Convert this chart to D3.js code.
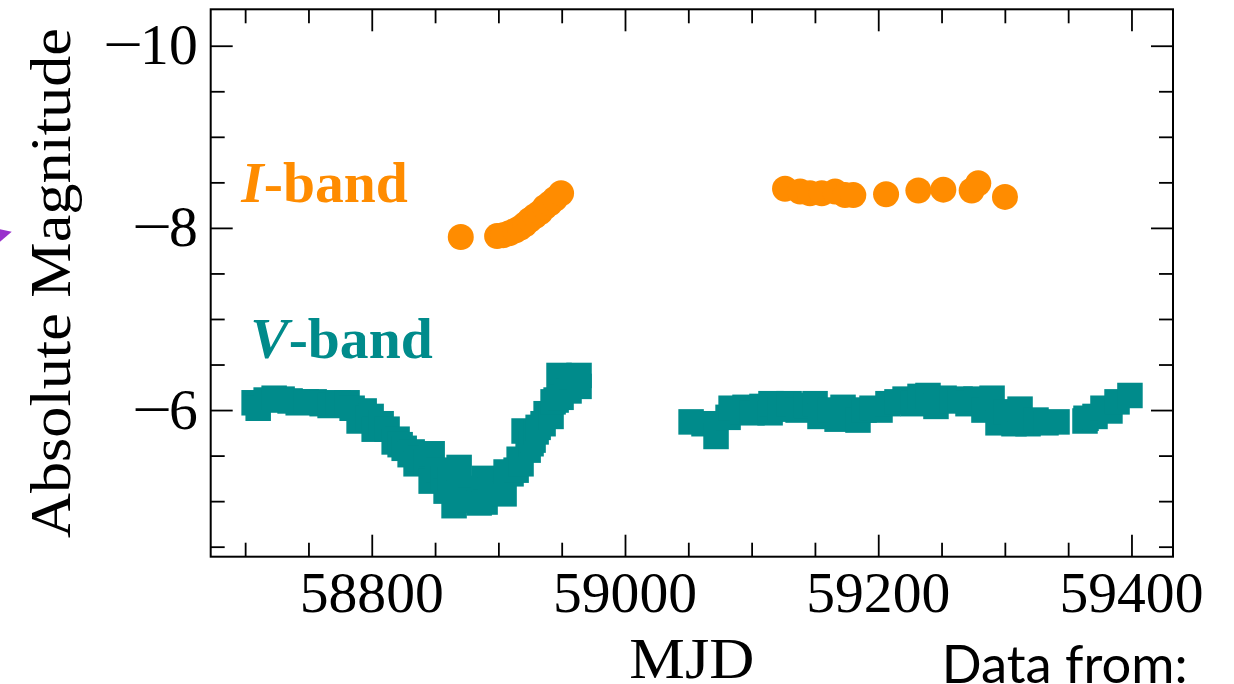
<!DOCTYPE html>
<html><head><meta charset="utf-8">
<script src="https://cdn.jsdelivr.net/npm/d3@7/dist/d3.min.js"></script>
<style>body{margin:0;background:#fff}svg{display:block}</style>
</head><body>
<svg id="chart" width="1234" height="684"></svg>
<script>
// ---- data ----
const vMjd = [58707.1,58710.3,58716.6,58722.9,58729.2,58735.5,58741.9,58748.2,58754.5,58760.8,58767.1,58773.4,58780.5,58784.5,
  58790.0,58794.0,58797.1,58799.5,58801.9,58807.4,58812.1,58817.7,58820.0,58822.4,58825.6,58830.3,58831.9,58835.0,58838.2,58842.9,58846.9,58847.7,58852.4,58856.3,58858.7,58861.9,58865.0,58869.0,58872.9,58874.5,
  58877.7,58884.8,58888.7,58889.5,58893.5,58898.2,58901.4,58904.5,58906.1,58910.0,58914.0,58916.4,58917.9,58920.3,58923.5,58925.8,58927.4,58929.8,58931.4,58935.3,58937.7,58941.6,58943.2,58945.6,58947.9,58949.5,58953.5,58955.8,58958.2,58963.7,58963.7,
  59052.2,59062.4,59071.9,59081.4,59083.8,59092.5,59094.8,59100.3,59108.2,59114.6,59115.3,59122.5,59129.6,59136.7,59143.0,59150.1,59154.0,59161.9,59167.5,59172.2,59179.3,59184.0,59188.8,59195.1,59201.4,59207.7,59214.8,59221.2,59227.5,59233.0,59239.3,59245.6,59252.0,59258.3,59264.6,59270.9,59277.2,59283.5,59289.9,59294.6,59300.9,59307.2,59312.0,59318.3,59324.6,59332.5,59341.2,
  59363.3,59364.1,59371.2,59377.5,59383.0,59388.6,59398.8];
const vMag = [-6.08,-6.02,-6.11,-6.13,-6.12,-6.10,-6.08,-6.09,-6.09,-6.07,-6.05,-6.08,-6.08,-6.02,
  -5.88,-5.99,-5.91,-5.93,-5.79,-5.85,-5.79,-5.65,-5.68,-5.62,-5.58,-5.51,-5.54,-5.41,-5.47,-5.43,-5.22,-5.52,-5.34,-5.25,-5.11,-5.23,-4.95,-5.37,-5.07,-5.14,
  -5.01,-4.98,-5.25,-4.99,-5.12,-5.18,-5.21,-5.08,-5.32,-5.30,-5.34,-5.46,-5.41,-5.77,-5.56,-5.63,-5.67,-5.76,-5.81,-5.85,-5.96,-5.93,-6.09,-6.11,-6.38,-6.14,-6.27,-6.21,-6.37,-6.26,-6.38,
  -5.87,-5.85,-5.71,-5.92,-6.02,-5.98,-6.03,-5.97,-6.04,-5.97,-6.07,-6.01,-6.07,-6.00,-6.05,-6.07,-5.93,-6.00,-5.90,-6.03,-5.93,-5.89,-6.00,-6.02,-6.00,-6.07,-6.09,-6.12,-6.07,-6.15,-6.16,-6.04,-6.13,-6.10,-6.12,-6.07,-6.12,-6.00,-6.13,-5.86,-5.98,-5.85,-6.01,-5.85,-5.89,-5.86,-5.87,
  -5.88,-5.91,-5.93,-6.02,-5.99,-6.09,-6.16];
const iMjd = [58870.3,58899.0,58903.7,58908.5,58913.2,58917.2,58921.1,58925.0,58929.0,58932.9,58936.9,58940.8,58944.8,58949.5,
  59126.4,59138.3,59146.1,59155.4,59165.9,59173.8,59180.3,59206.2,59231.7,59251.4,59273.8,59279.0,59300.1];
const iMag = [-7.90,-7.91,-7.92,-7.94,-7.97,-8.00,-8.04,-8.09,-8.13,-8.17,-8.23,-8.27,-8.32,-8.38,
  -8.43,-8.40,-8.38,-8.38,-8.40,-8.36,-8.36,-8.37,-8.41,-8.42,-8.41,-8.49,-8.34];
const xMajorTicks = [58800,59000,59200,59400];
const xMinorTicks = [58700,58750,58850,58900,58950,59050,59100,59150,59250,59300,59350];
const xTickLabels = ["58800","59000","59200","59400"];
const yMajorTicks = [-10,-8,-6];
const yMinorTicks = [-9.5,-9,-8.5,-7.5,-7,-6.5,-5.5,-5,-4.5];
const yTickLabels = ["10","8","6"];
const xDomain = [58672.8, 59432.8];
const yDomain = [-10.4, -4.39];
const labelI = {mjd: 58697, mag: -8.28, name: "I", rest: "-band"};
const labelV = {mjd: 58704, mag: -6.57, name: "V", rest: "-band"};
const colorI = "#ff8c00", colorV = "#008b8b";

// ---- drawing ----
const svg = d3.select("#chart");
const L = 210.7, R = 1173, T = 9.3, B = 556.7;
const x = d3.scaleLinear().domain(xDomain).range([L, R]);
const y = d3.scaleLinear().domain(yDomain).range([T, B]);
const serif = "'Liberation Serif','Times New Roman',serif";
const fs = 57.6;

// purple marker fragment at the left edge
svg.append("path").attr("d", "M0,229.3L11.7,231.7L0,241.7Z").attr("fill", "#9932cc");

// data
const sq = 25.5;
svg.append("g").selectAll("rect").data(vMjd.map((d, i) => [d, vMag[i]])).join("rect")
  .attr("x", d => x(d[0]) - sq / 2).attr("y", d => y(d[1]) - sq / 2)
  .attr("width", sq).attr("height", sq).attr("fill", colorV);
svg.append("g").selectAll("circle").data(iMjd.map((d, i) => [d, iMag[i]])).join("circle")
  .attr("cx", d => x(d[0])).attr("cy", d => y(d[1])).attr("r", 13).attr("fill", colorI);

// axes (inward ticks)
function ax(gen, tr, vals, size) {
  const g = svg.append("g").attr("transform", tr)
    .call(gen.tickValues(vals).tickSize(-size).tickSizeOuter(0).tickFormat(""));
  g.select(".domain").remove();
  g.selectAll("line").attr("stroke", "#000").attr("stroke-width", 1.8);
}
[[xMajorTicks, 22], [xMinorTicks, 14]].forEach(([v, s]) => {
  ax(d3.axisBottom(x), `translate(0,${B})`, v, s);
  ax(d3.axisTop(x), `translate(0,${T})`, v, s);
});
[[yMajorTicks, 22], [yMinorTicks, 14]].forEach(([v, s]) => {
  ax(d3.axisLeft(y), `translate(${L},0)`, v, s);
  ax(d3.axisRight(y), `translate(${R},0)`, v, s);
});
svg.append("rect").attr("x", L).attr("y", T).attr("width", R - L).attr("height", B - T)
  .attr("fill", "none").attr("stroke", "#000").attr("stroke-width", 2);

// tick labels
svg.append("g").selectAll("text").data(xMajorTicks).join("text")
  .attr("x", d => x(d)).attr("y", B + 55.5).attr("text-anchor", "middle")
  .attr("font-family", serif).attr("font-size", fs).text((d, i) => xTickLabels[i]);
const lblRight = L - 13;
svg.append("g").selectAll("text").data(yMajorTicks).join("text")
  .attr("x", lblRight).attr("y", d => y(d) + 18.5).attr("text-anchor", "end")
  .attr("font-family", serif).attr("font-size", fs).text((d, i) => yTickLabels[i]);
svg.append("g").selectAll("text").data(yMajorTicks).join("text")
  .attr("x", (d, i) => lblRight - 28.8 * yTickLabels[i].length + 3 - 40)
  .attr("y", d => y(d) + 18.5)
  .attr("font-family", serif).attr("font-size", fs)
  .attr("textLength", 40).attr("lengthAdjust", "spacingAndGlyphs").text("\u2212");

// axis titles
svg.append("text").attr("x", (L + R) / 2).attr("y", 678).attr("text-anchor", "middle")
  .attr("font-family", serif).attr("font-size", fs)
  .attr("textLength", 125).attr("lengthAdjust", "spacingAndGlyphs").text("MJD");
svg.append("text").attr("transform", `translate(70,${(T + B) / 2}) rotate(-90)`)
  .attr("text-anchor", "middle").attr("font-family", serif).attr("font-size", fs)
  .attr("textLength", 510).attr("lengthAdjust", "spacingAndGlyphs").text("Absolute Magnitude");

// band labels
[[labelI, colorI], [labelV, colorV]].forEach(([lb, c]) => {
  const t = svg.append("text").attr("x", x(lb.mjd)).attr("y", y(lb.mag))
    .attr("font-family", serif).attr("font-size", fs).attr("font-weight", "bold").attr("fill", c);
  t.append("tspan").attr("font-style", "italic").text(lb.name);
  t.append("tspan").text(lb.rest);
});

// footer
svg.append("text").attr("x", 941.7).attr("y", 683).attr("font-family", "Lato,'Open Sans',sans-serif")
  .attr("font-size", 52.5).attr("fill", "#000").text("Data from:");
</script>
</body></html>
